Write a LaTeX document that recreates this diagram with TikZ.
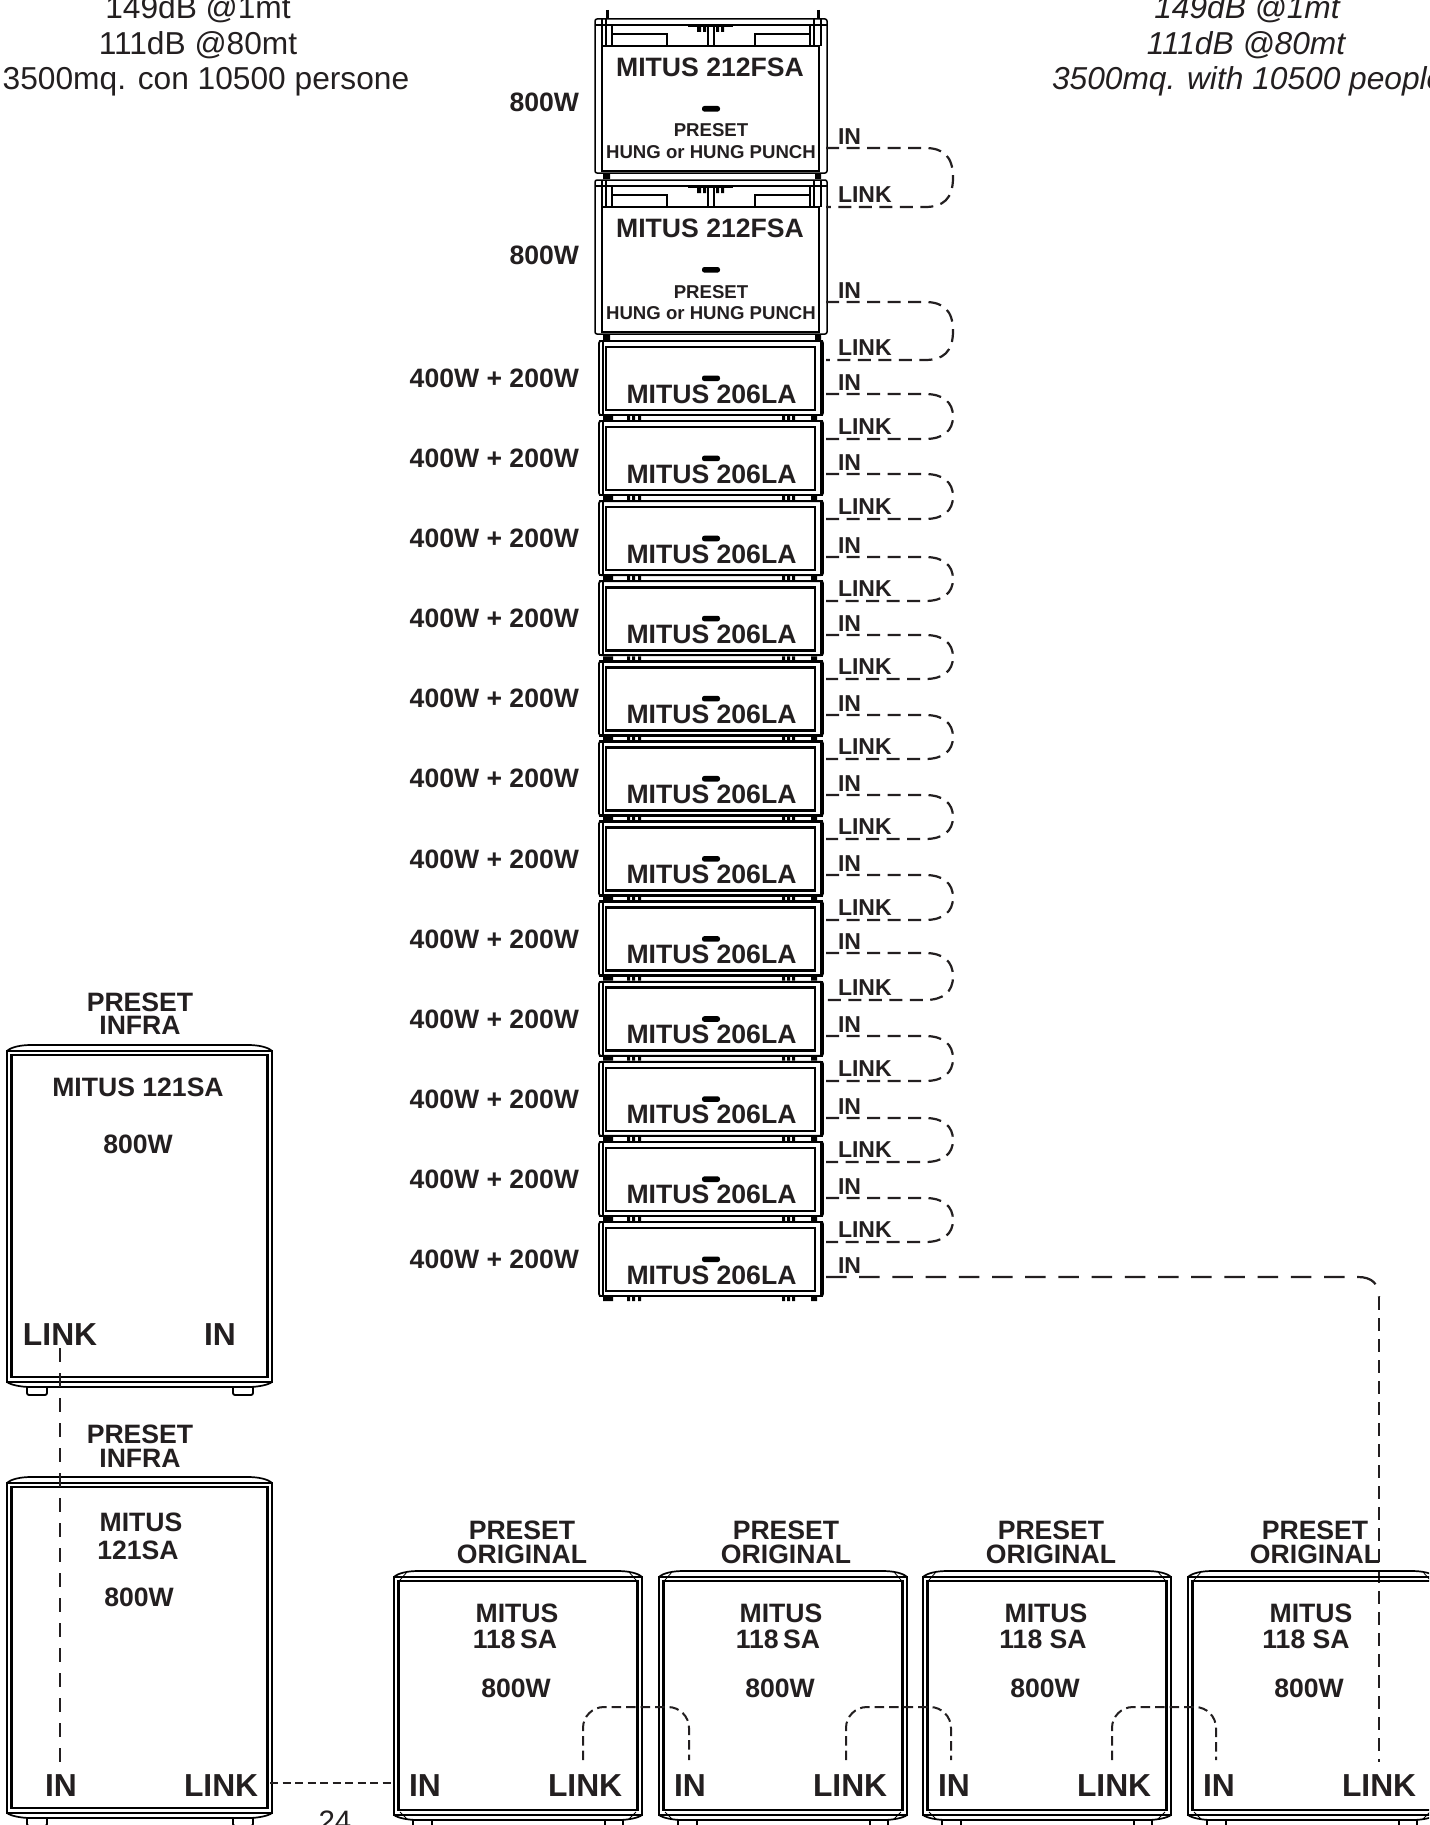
\documentclass[tikz,border=0pt]{standalone}
\usepackage{fontspec}
\setmainfont{Liberation Sans}
\definecolor{ink}{HTML}{231F20}
\newcommand\fsz[1]{\fontsize{#1}{#1}\selectfont}
\tikzset{
  txt/.style={inner sep=0pt,outer sep=0pt,text=ink,anchor=base},
  txtl/.style={txt,anchor=base west},
  txtr/.style={txt,anchor=base east},
  bfa/.style={font=\bfseries\fsz{26.6}},
  bfb/.style={font=\bfseries\fsz{31.8}},
  bfc/.style={font=\bfseries\fsz{18.6}},
  bfd/.style={font=\bfseries\fsz{23}},
  plain/.style={font=\fsz{31.7}},
  ital/.style={font=\itshape\fsz{31.7}},
  thickln/.style={draw=black,line width=2.8pt},
  thinln/.style={draw=black,line width=1.4pt},
  loopwire/.style={draw=ink,line width=2.2pt,dash pattern=on 13pt off 7.5pt},
  longwire/.style={draw=ink,line width=2.2pt,dash pattern=on 20.5pt off 12.7pt},
  vertwire/.style={draw=ink,line width=1.9pt,dash pattern=on 13pt off 8pt},
  leftwire/.style={draw=ink,line width=2pt,dash pattern=on 14pt off 11pt},
  shortwire/.style={draw=ink,line width=2pt,dash pattern=on 8pt off 4.5pt},
  subwire/.style={draw=ink,line width=2pt,rounded corners=21pt,dash pattern=on 9.5pt off 5pt},
}
% speaker cabinet seen from the front: L R top-curve inner-bottom
\newcommand\cabinet[4]{%
  \draw[thickln] (#1+4.5,#3+10) rectangle (#2-4.5,#4);
  \draw[thinln] (#1,#3+6) -- (#2,#3+6) -- (#2,#4+5) -- (#1,#4+5) -- cycle;
  \draw[line width=1.7pt] (#1,#3+6) .. controls (#1+4,#3+2) and (#1+14,#3) .. (#1+24,#3) -- (#2-24,#3) .. controls (#2-14,#3) and (#2-4,#3+2) .. (#2,#3+6);
  \draw[line width=1.7pt] (#1,#4+5) .. controls (#1+4,#4+8) and (#1+14,#4+10) .. (#1+24,#4+10) -- (#2-24,#4+10) .. controls (#2-14,#4+10) and (#2-4,#4+8) .. (#2,#4+5);
}
\newcommand\wedges[4]{%
  \draw[line width=.8pt] (#1+6,#3+9) -- (#1+13,#3+1) (#2-6,#3+9) -- (#2-13,#3+1)
    (#1+6,#4+2) -- (#1+13,#4+9) (#2-6,#4+2) -- (#2-13,#4+9);
}
\newcommand\footpad[2]{%
  \draw[line width=1.8pt,rounded corners=2pt] (#1,#2) -- (#1,#2+8) -- (#1+20,#2+8) -- (#1+20,#2);
}
\newcommand\handle[1]{%
  \fill[black,rounded corners=2.4pt] (702,#1) rectangle (720,#1+5.6);
}
\newcommand\fsabox[1]{%
  \draw[line width=1.5pt,rounded corners=2pt] (595,#1) rectangle (827,#1+154);
  \draw[line width=2.8pt] (602,#1+27) rectangle (819,#1+152);
  \draw[line width=1.7pt] (595,#1+6) -- (827,#1+6);
  \draw[line width=1.5pt] (602,#1) -- (602,#1+27) (606,#1) -- (606,#1+27) (612,#1+6) -- (612,#1+27)
    (708,#1+6) -- (708,#1+27) (714,#1+6) -- (714,#1+27)
    (810,#1+6) -- (810,#1+27) (814,#1) -- (814,#1+27) (821,#1) -- (821,#1+27);
  \draw[line width=1.5pt] (612,#1+15) -- (667,#1+15) -- (667,#1+27) (810,#1+15) -- (755,#1+15) -- (755,#1+27);
  \draw[line width=1.2pt] (688,#1+7.5) -- (733,#1+7.5);
  \fill[black] (697,#1+8) rectangle (701,#1+13) (703,#1+8) rectangle (706,#1+13) (716,#1+8) rectangle (719,#1+13) (721,#1+8) rectangle (724,#1+13);
  \fill[black] (603,#1+154) rectangle (610,#1+160) (815,#1+154) rectangle (821,#1+160);
  \handle{#1+87}
}
\newcommand\labox[1]{%
  \draw[line width=1.7pt,rounded corners=2pt] (599,#1) rectangle (823,#1+74);
  \draw[line width=2.5pt] (606,#1+6) rectangle (815,#1+69);
  \draw[line width=2.4pt] (599,#1) -- (823,#1) (599,#1+74) -- (823,#1+74);
  \draw[line width=1.5pt] (603,#1+1) -- (603,#1+73) (821,#1+1) -- (821,#1+73);
  \fill[black] (603,#1+75) rectangle (613,#1+79) (627,#1+75) rectangle (630,#1+79) (632,#1+75) rectangle (635,#1+79) (638,#1+75) rectangle (641,#1+79)
    (782,#1+75) rectangle (785,#1+79) (787,#1+75) rectangle (790,#1+79) (792,#1+75) rectangle (795,#1+79) (811,#1+75) rectangle (817,#1+79);
  \handle{#1+34.5}
}
\begin{document}
\begin{tikzpicture}[x=1pt,y=-1pt]
\path[use as bounding box,fill=white] (0,0) rectangle (1429,1825);
\clip (0,0) rectangle (1429,1825);

% header texts
\node[txt,plain] (hl1) at (198,19) {149dB @1mt};
\node[txt,plain] (hl2) at (198,55) {111dB @80mt};
\node[txt,plain] (hl3) at (206,90) {3500mq. con 10500 persone};
\node[txt,ital] (hr1) at (1247,19) {149dB @1mt};
\node[txt,ital] (hr2) at (1246,55) {111dB @80mt};
\node[txtl,ital] (hr3) at (1052,90) {3500mq. with 10500 people};
\draw[line width=3pt] (607,10) -- (607,19) (818,10) -- (818,19);

% line array
\fsabox{19}
\fsabox{180}
\node[txt,bfa] (f1) at (710,77) {MITUS 212FSA};
\node[txt,bfc] (f1p) at (711,137) {PRESET};
\node[txt,bfc] (f1h) at (711,158) {HUNG or HUNG PUNCH};
\node[txt,bfa] (f2) at (710,237) {MITUS 212FSA};
\node[txt,bfc] (f2p) at (711,298) {PRESET};
\node[txt,bfc] (f2h) at (711,319) {HUNG or HUNG PUNCH};
\node[txtr,bfa] (fw1) at (579,112) {800W};
\node[txtr,bfa] (fw2) at (579,264.5) {800W};
\foreach \k in {0,...,11}{
  \pgfmathsetmacro\T{341+80.09*\k}
  \labox{\T}
  \node[txt,bfa] (la\k) at (711.5,\T+62) {MITUS 206LA};
  \node[txtr,bfa] (law\k) at (579,\T+46.5) {400W + 200W};
}

% daisy chain of the array
\foreach \i/\a/\b in {1/148/207,2/302/360,3/394/439,4/474/519,5/557/601,6/635/679,7/715/759,8/795/839,9/875/920,10/953/1000,11/1036/1081,12/1118/1162,13/1198/1242}{
  \node[txtl,bfd] (in\i) at (838,\a-4) {IN};
  \node[txtl,bfd] (lk\i) at (838,\b-4.5) {LINK};
  \coordinate (o\i) at (826,\a);
  \coordinate (e\i) at (826,\b);
  \draw[loopwire] (o\i) -- (925,\a) .. controls (943,\a) and (953,\a+8) .. (953,{(\a+\b)/2}) .. controls (953,\b-8) and (943,\b) .. (925,\b) -- (e\i);
}
\node[txtl,bfd] (in14) at (838,1273) {IN};
\coordinate (o14) at (826,1277);
\coordinate (turn) at (1379,1297);
\coordinate (sublink) at (1379,1762);
\draw[longwire] (o14) -- (1358,1277) .. controls (1372,1277) and (1379,1284) .. (turn);
\draw[vertwire] (turn) -- (sublink);

% INFRA cabinets
\cabinet{7}{272}{1045}{1377}
\footpad{27}{1387}
\footpad{233}{1387}
\node[txt,bfa] (p1) at (140,1011) {PRESET};
\node[txt,bfa] (p1b) at (140,1034) {INFRA};
\node[txt,bfa] (m1) at (138,1096) {MITUS 121SA};
\node[txt,bfa] (w1) at (138,1153) {800W};
\node[txtl,bfb] (lkA) at (23,1345) {LINK};
\node[txtl,bfb] (inA) at (204,1345) {IN};

\cabinet{7}{272}{1477}{1808}
\footpad{27}{1818}
\footpad{233}{1818}
\node[txt,bfa] (p2) at (140,1443) {PRESET};
\node[txt,bfa] (p2b) at (140,1467) {INFRA};
\node[txt,bfa] (m2) at (141,1531) {MITUS};
\node[txt,bfa] (m2b) at (138,1559) {121SA};
\node[txt,bfa] (w2) at (139,1606) {800W};
\node[txtl,bfb] (inB) at (45,1796) {IN};
\node[txtl,bfb] (lkB) at (184,1796) {LINK};
\coordinate (a1) at (60,1348);
\coordinate (a2) at (60,1767);
\draw[leftwire] (a1) -- (a2);
\coordinate (b1) at (270,1783);
\coordinate (b2) at (393,1783);
\draw[shortwire] (b1) -- (b2);
\node[txt,font=\fsz{29.5}] (page) at (335,1831) {24};

% ORIGINAL cabinets
\foreach \n/\L/\cx/\mx/\sx/\wx/\inx/\lkx/\num in {
  1/394/522/517/515/516/409/548/118\,SA,
  2/659/786/781/778/780/674/813/118\,SA,
  3/923/1051/1046/1043/1045/938/1077/118 SA,
  4/1188/1315/1311/1306/1309/1203/1342/118 SA}{
  \pgfmathsetmacro\R{\L+248}
  \cabinet{\L}{\R}{1571}{1810}
  \wedges{\L}{\R}{1571}{1810}
  \draw[line width=1.6pt] (\L+19,1819) -- (\L+19,1825) (\L+38,1819) -- (\L+38,1825) (\L+211,1819) -- (\L+211,1825) (\L+229,1819) -- (\L+229,1825);
  \node[txt,bfa] (op\n) at (\cx,1539.5) {PRESET};
  \node[txt,bfa] (oo\n) at (\cx,1563) {ORIGINAL};
  \node[txt,bfa] (om\n) at (\mx,1622) {MITUS};
  \node[txt,bfa] (os\n) at (\sx,1648.5) {\num};
  \node[txt,bfa] (ow\n) at (\wx,1697) {800W};
  \node[txtl,bfb] (oi\n) at (\inx,1796) {IN};
  \node[txtl,bfb] (ol\n) at (\lkx,1796) {LINK};
}
\foreach \n/\x/\y in {1/583/689,2/846/951,3/1112/1216}{
  \coordinate (sa\n) at (\x,1760);
  \coordinate (sb\n) at (\y,1760);
  \draw[subwire] (sa\n) -- (\x,1707) -- (\y,1707) -- (sb\n);
}
\end{tikzpicture}
\end{document}
